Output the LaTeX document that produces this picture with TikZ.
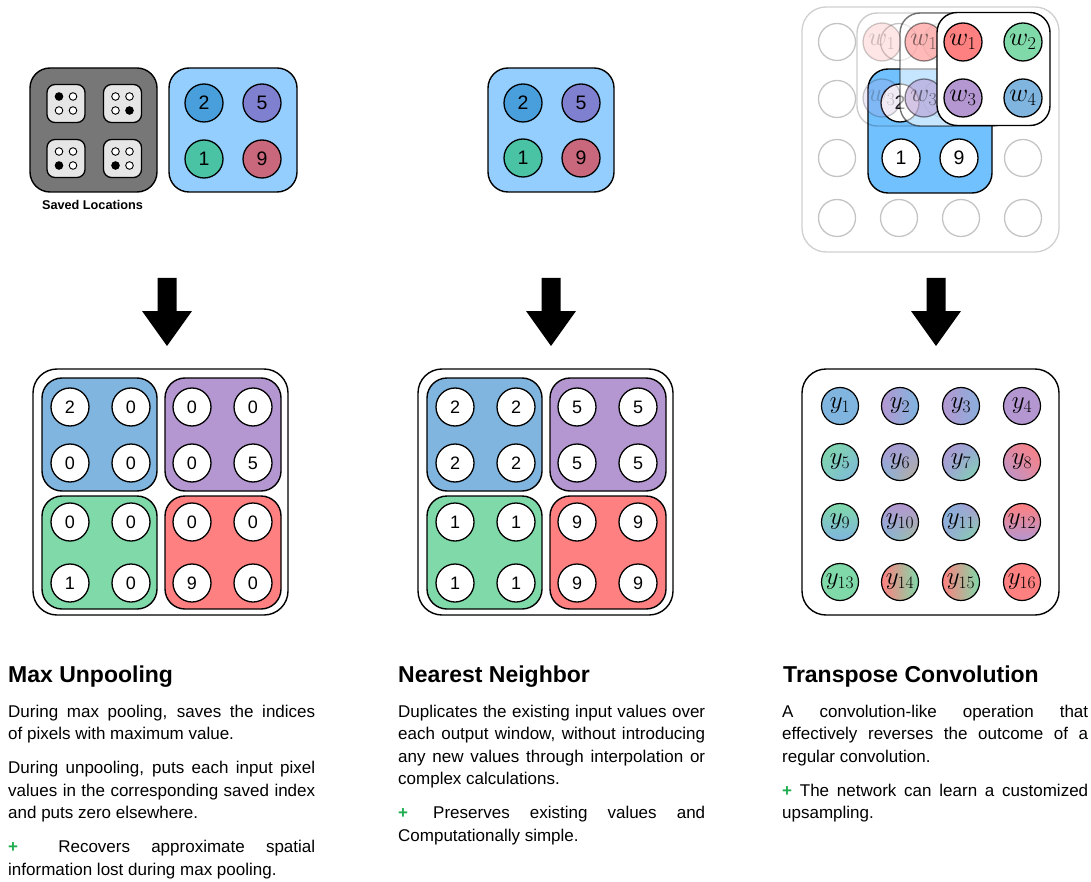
\RequirePackage{fix-cm}
\documentclass[tikz,border=0pt]{standalone}
\usepackage{fontspec}
\setmainfont{Liberation Sans}
\usetikzlibrary{shadings}

\definecolor{cBlue}{HTML}{7FB5DF}
\definecolor{cPurple}{HTML}{B497D1}
\definecolor{cGreen}{HTML}{80D9A9}
\definecolor{cRed}{HTML}{FF8080}
\definecolor{inBox}{HTML}{94CEFF}
\definecolor{inTwo}{HTML}{489FDC}
\definecolor{inFive}{HTML}{8080D0}
\definecolor{inOne}{HTML}{49C3A4}
\definecolor{inNine}{HTML}{C9687C}
\definecolor{convBox}{HTML}{72C1FF}
\definecolor{plusGreen}{HTML}{1FAD4F}
\definecolor{ghostLine}{HTML}{C4C4C4}
\definecolor{ghostFrame}{HTML}{D0D0D0}
\definecolor{saveGray}{HTML}{777777}
\definecolor{tileGray}{HTML}{E6E6E6}

\hyphenpenalty=10000
\exhyphenpenalty=10000
\tolerance=10000
\hbadness=10000

\newcommand\plusmark{\textcolor{plusGreen}{\textbf{+}}}
\newcommand\paragap{\par\vspace{11.5pt}}

\tikzset{
  frame/.style={rectangle, draw=black, line width=1.4pt, rounded corners=24pt, inner sep=0pt},
  panel/.style={rectangle, draw=black, line width=1.4pt, rounded corners=20pt, inner sep=0pt},
  tile/.style={rectangle, draw=black, line width=1.3pt, rounded corners=8pt, fill=tileGray, minimum size=38pt, inner sep=0pt},
  dot/.style={circle, draw=black, line width=0.9pt, minimum size=7.6pt, inner sep=0pt},
  cell/.style={circle, draw=black, line width=1.3pt, minimum size=38pt, inner sep=0pt, fill=white, font=\fontsize{18}{18}\selectfont},
  incell/.style={cell, font=\fontsize{19.5}{19.5}\selectfont},
  wcell/.style={cell, font=\fontsize{26}{26}\selectfont},
  ycell/.style={circle, draw=black, line width=1.2pt, minimum size=37pt, inner sep=0pt, font=\fontsize{25}{25}\selectfont},
  ghostcell/.style={circle, draw=ghostLine, line width=1.3pt, minimum size=37pt, inner sep=0pt},
  kernel/.style={panel, minimum width=113pt, minimum height=113pt},
  downarrow/.style={fill=black},
  heading/.style={anchor=base west, inner sep=0pt, font=\bfseries\fontsize{23}{23}\selectfont},
  body/.style={anchor=base west, inner sep=0pt, text width=307pt, align=justify, font=\fontsize{17}{22.5}\selectfont},
}

% one tile of the saved-location map: name, centre, index of the filled dot
\newcommand\savedtile[3]{%
  \node[tile] (#1) at #2 {};
  \foreach \k/\dx/\dy in {1/-7/-7,2/7/-7,3/-7/7,4/7/7}{
    \ifnum\k=#3 \def\tilefill{black}\else\def\tilefill{white}\fi
    \node[dot, fill=\tilefill] (#1-\k) at ([shift={(\dx,\dy)}]#1.center) {};
  }%
}

\begin{document}
\begin{tikzpicture}[x=1pt,y=-1pt]
\useasboundingbox (0,0) rectangle (1091,882);

% ---------------- Max unpooling: input -----------------
\node[panel, fill=saveGray, minimum width=127pt, minimum height=124pt] (saved) at (93.5,130) {};
\savedtile{sA}{(66,103.5)}{1}
\savedtile{sB}{(122.5,103.5)}{4}
\savedtile{sC}{(66,158.5)}{3}
\savedtile{sD}{(122.5,158.5)}{3}
\node[anchor=base, inner sep=0pt, font=\bfseries\fontsize{12.7}{13}\selectfont] (savedLbl) at (92.5,210) {Saved Locations};

\node[panel, fill=inBox, minimum width=128pt, minimum height=124pt] (inA) at (233,130) {};
\node[incell, fill=inTwo]  (inA1) at (204,103) {2};
\node[incell, fill=inFive] (inA2) at (262,103) {5};
\node[incell, fill=inOne]  (inA3) at (204,159) {1};
\node[incell, fill=inNine] (inA4) at (262,159) {9};

% ---------------- Nearest neighbour: input -----------------
\node[panel, fill=inBox, minimum width=126pt, minimum height=124pt] (inB) at (551,130) {};
\node[incell, fill=inTwo]  (inB1) at (523,103) {2};
\node[incell, fill=inFive] (inB2) at (581,103) {5};
\node[incell, fill=inOne]  (inB3) at (523,158) {1};
\node[incell, fill=inNine] (inB4) at (581,158) {9};

% ---------------- Transpose convolution: input -----------------
\node[frame, draw=ghostFrame, line width=1.3pt, minimum width=257pt, minimum height=245pt] (tcGrid) at (930.5,129.5) {};
\foreach \c/\x in {1/837,2/899,3/961,4/1023}
  \foreach \r/\y in {1/42,2/99,3/158,4/218}
    \node[ghostcell] (g\r\c) at (\x,\y) {};

\node[panel, fill=convBox, minimum width=124pt, minimum height=124pt] (tcIn) at (930,131) {};
\node[incell] (tcTwo)  at (900,103) {2};
\node[incell] (tcOne)  at (901,158) {1};
\node[incell] (tcNine) at (959,158) {9};

% earlier kernel positions, fading out
\node[kernel, opacity=0.2] (kA) at (913.5,69.5) {};
\node[wcell, fill=cRed,    opacity=0.2] (kA1) at (882,42) {$w_{1}$};
\node[wcell, fill=cGreen,  opacity=0.2] (kA2) at (942,42) {};
\node[wcell, fill=cPurple, opacity=0.2] (kA3) at (882,98) {$w_{3}$};
\node[wcell, fill=cBlue,   opacity=0.2] (kA4) at (942,98) {};

\node[kernel, fill=white, fill opacity=0.6, draw opacity=0.55] (kB) at (956.5,69.5) {};
\node[wcell, fill=cRed,    fill opacity=0.55, draw opacity=0.45, text opacity=0.5] (kB1) at (924,42) {$w_{1}$};
\node[wcell, fill=cPurple, fill opacity=0.55, draw opacity=0.45, text opacity=0.5] (kB3) at (924,98) {$w_{3}$};

% current kernel position
\node[kernel, fill=white] (kC) at (993.5,69) {};
\node[wcell, fill=cRed]    (kC1) at (963,42)  {$w_{1}$};
\node[wcell, fill=cGreen]  (kC2) at (1023,42) {$w_{2}$};
\node[wcell, fill=cPurple] (kC3) at (963,98)  {$w_{3}$};
\node[wcell, fill=cBlue]   (kC4) at (1023,98) {$w_{4}$};

% ---------------- block arrows -----------------
\foreach \cx in {167,551,936}
  \fill[downarrow] (\cx-9.5,278) -- (\cx+9.5,278) -- (\cx+9.5,311) -- (\cx+25,311)
                   -- (\cx,346) -- (\cx-25,311) -- (\cx-9.5,311) -- cycle;

% ---------------- Max unpooling: output -----------------
\node[frame, fill=white, minimum width=255pt, minimum height=246pt] (outA) at (160.5,492) {};
\node[panel, fill=cBlue,   minimum width=115pt, minimum height=113pt] (outAb) at (99.5,434.5) {};
\node[panel, fill=cPurple, minimum width=116pt, minimum height=113pt] (outAp) at (223,434.5) {};
\node[panel, fill=cGreen,  minimum width=115pt, minimum height=113pt] (outAg) at (99.5,552.5) {};
\node[panel, fill=cRed,    minimum width=116pt, minimum height=113pt] (outAr) at (223,552.5) {};
\foreach \y/\r/\va/\vb/\vc/\vd in {407/1/2/0/0/0, 463/2/0/0/0/5, 522/3/0/0/0/0, 583/4/1/0/9/0}{
  \node[cell] (oA\r1) at (70,\y)  {\va};
  \node[cell] (oA\r2) at (131,\y) {\vb};
  \node[cell] (oA\r3) at (192,\y) {\vc};
  \node[cell] (oA\r4) at (253,\y) {\vd};
}

% ---------------- Nearest neighbour: output -----------------
\node[frame, fill=white, minimum width=255pt, minimum height=246pt] (outB) at (545.5,492) {};
\node[panel, fill=cBlue,   minimum width=115pt, minimum height=113pt] (outBb) at (484.5,434.5) {};
\node[panel, fill=cPurple, minimum width=116pt, minimum height=113pt] (outBp) at (608,434.5) {};
\node[panel, fill=cGreen,  minimum width=115pt, minimum height=113pt] (outBg) at (484.5,552.5) {};
\node[panel, fill=cRed,    minimum width=116pt, minimum height=113pt] (outBr) at (608,552.5) {};
\foreach \y/\r/\va/\vb in {407/1/2/5, 463/2/2/5, 522/3/1/9, 583/4/1/9}{
  \node[cell] (oB\r1) at (455,\y) {\va};
  \node[cell] (oB\r2) at (516,\y) {\va};
  \node[cell] (oB\r3) at (577,\y) {\vb};
  \node[cell] (oB\r4) at (638,\y) {\vb};
}

% ---------------- Transpose convolution: output -----------------
\node[frame, fill=white, minimum width=257pt, minimum height=246pt] (outC) at (930.5,492) {};
\node[ycell, fill=cBlue] (y1) at (840,406) {$y_{1}$};
\node[ycell, left color=cPurple, right color=cBlue] (y2) at (900,406) {$y_{2}$};
\node[ycell, left color=cPurple, right color=cBlue!80!cPurple] (y3) at (961,406) {$y_{3}$};
\node[ycell, fill=cPurple] (y4) at (1022,406) {$y_{4}$};
\node[ycell, upper left=cGreen, upper right=cGreen!60!cBlue, lower left=cGreen!60!cBlue, lower right=cBlue] (y5) at (840,462) {$y_{5}$};
\node[ycell, upper left=cPurple, upper right=cPurple!50!cBlue, lower left=cBlue, lower right=cGreen!50!cRed] (y6) at (900,462) {$y_{6}$};
\node[ycell, upper left=cPurple, upper right=cBlue!60!cPurple, lower left=cBlue!50!cPurple, lower right=cGreen] (y7) at (961,462) {$y_{7}$};
\node[ycell, upper left=cRed!60!cPurple, upper right=cRed, lower left=cPurple, lower right=cRed!60!cPurple] (y8) at (1022,462) {$y_{8}$};
\node[ycell, top color=cGreen, bottom color=cBlue] (y9) at (840,522) {$y_{9}$};
\node[ycell, upper left=cPurple, upper right=cPurple, lower left=cBlue, lower right=cGreen!70!cRed] (y10) at (900,522) {$y_{10}$};
\node[ycell, upper left=cBlue, upper right=cPurple, lower left=cPurple!50!cBlue, lower right=cGreen] (y11) at (961,522) {$y_{11}$};
\node[ycell, top color=cRed, bottom color=cPurple] (y12) at (1022,522) {$y_{12}$};
\node[ycell, fill=cGreen] (y13) at (840,582) {$y_{13}$};
\node[ycell, left color=cRed, middle color=cRed!50!cGreen!80!brown, right color=cGreen] (y14) at (900,582) {$y_{14}$};
\node[ycell, left color=cRed, middle color=cRed!50!cGreen!80!brown, right color=cGreen] (y15) at (961,582) {$y_{15}$};
\node[ycell, fill=cRed] (y16) at (1022,582) {$y_{16}$};

% ---------------- descriptions -----------------
\node[heading] (hMax) at (8,682) {Max Unpooling};
\node[body] (bMax) at (8,717) {During max pooling, saves the indices\linebreak
  of pixels with maximum value.\paragap
  During unpooling, puts each input pixel\linebreak
  values in the corresponding saved index\linebreak
  and puts zero elsewhere.\paragap
  \plusmark\hspace{19pt} Recovers approximate spatial\linebreak
  information lost during max pooling.};

\node[heading] (hNear) at (398,682) {Nearest Neighbor};
\node[body] (bNear) at (398,717) {Duplicates the existing input values over\linebreak
  each output window, without introducing\linebreak
  any new values through interpolation or\linebreak
  complex calculations.\paragap
  \plusmark\hspace{5pt} Preserves existing values and\linebreak
  Computationally simple.};

\node[heading] (hConv) at (783,682) {Transpose Convolution};
\node[body, text width=306pt] (bConv) at (782,717) {A convolution-like operation that\linebreak
  effectively reverses the outcome of a\linebreak
  regular convolution.\paragap
  \plusmark{} The network can learn a customized\linebreak
  upsampling.};
\end{tikzpicture}
\end{document}
